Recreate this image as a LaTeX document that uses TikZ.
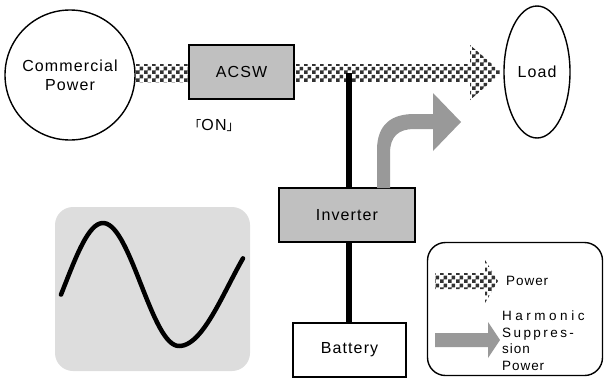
\documentclass[tikz,border=0pt]{standalone}
\usepackage{fontspec}
\usepackage{tikz}
\usetikzlibrary{patterns,shapes.geometric}
\setmainfont{Liberation Sans}
\newfontfamily\diagfont[LetterSpace=7]{Liberation Sans}
\newfontfamily\cjkfont{Noto Sans CJK JP}
\definecolor{boxgray}{RGB}{192,192,192}
\definecolor{arrowgray}{RGB}{153,153,153}
\definecolor{panelgray}{RGB}{221,221,221}
\definecolor{checkdark}{RGB}{50,50,50}

\pgfdeclarepatternformonly{checker}{\pgfpointorigin}{\pgfpoint{8pt}{8pt}}{\pgfpoint{8pt}{8pt}}{%
  \pgfpathrectangle{\pgfpointorigin}{\pgfpoint{4pt}{4pt}}%
  \pgfpathrectangle{\pgfpoint{4pt}{4pt}}{\pgfpoint{4pt}{4pt}}%
  \pgfusepath{fill}}

\tikzset{
  blockbox/.style={draw, line width=1.8pt, fill=boxgray, minimum width=105pt, minimum height=54pt},
  flowband/.style={fill=white, postaction={pattern=checker, pattern color=checkdark}},
  wire/.style={line width=6pt},
  txt/.style={font=\diagfont\fontsize{16}{19}\selectfont},
  smalltxt/.style={font=\diagfont\fontsize{13.5}{16.5}\selectfont}
}

\begin{document}
\begin{tikzpicture}[x=1pt, y=-1pt]
    \useasboundingbox (0,0) rectangle (605,378);

    % power flow band with arrow head
    \path[flowband] (70,64) rectangle (189,82);
    \path[flowband] (294,64) -- (470,64) -- (470,45) -- (502,72.5) -- (470,100) -- (470,82) -- (294,82) -- cycle;

    % blocks
    \node[draw, circle, line width=1.4pt, fill=white, minimum size=130pt, align=center, txt] (cp) at (70,75) {Commercial\\Power};
    \node[blockbox, txt, inner sep=0pt] (acsw) at (241.5,72) {ACSW};
    \node[txt, inner sep=0pt] (on) at (214,125) {{\cjkfont\fontsize{13}{13}\selectfont 「}ON{\cjkfont\fontsize{13}{13}\selectfont 」}};
    \node[draw, ellipse, line width=1.4pt, minimum width=66pt, minimum height=132pt, inner sep=0pt, txt] (load) at (537,72) {Load};
    \node[blockbox, txt, minimum width=136pt] (inv) at (347,215) {Inverter};
    \node[draw, line width=1.4pt, fill=white, minimum width=113pt, minimum height=54pt, txt] (batt) at (349.5,350) {Battery};

    % wiring
    \coordinate (tap) at (349,73);
    \draw[wire] (tap) -- (tap |- inv.north);
    \draw[wire] (batt.north -| tap) -- (tap |- inv.south);

    % harmonic suppression power arrow
    \fill[arrowgray] (377,188) -- (377,150) .. controls (377,124) and (392,114) .. (414,114)
        -- (433,114) -- (433,93) -- (461,122) -- (433,151) -- (433,129) -- (414,129)
        .. controls (399,129) and (390,136) .. (390,153) -- (390,188) -- cycle;

    % output waveform
    \fill[panelgray, rounded corners=18pt] (55,207) rectangle (250,371);
    \draw[line width=4.5pt, line cap=round, line join=round]
        plot[domain=61:179, samples=50] (\x, {284.5-61.5*cos((\x-103)/76*180)})
        -- plot[domain=179:243, samples=30] (\x, {284.5+61.5*cos((\x-179)/100*180)});

    % legend
    \node[draw, line width=1.4pt, rounded corners=18pt, minimum width=175pt, minimum height=133pt] (legend) at (515,309) {};
    \path[flowband] (435,273) -- (485,273) -- (485,260) -- (498,281) -- (485,303) -- (485,289) -- (435,289) -- cycle;
    \node[smalltxt, anchor=west, inner sep=0pt] (lgpower) at (506,281) {Power};
    \fill[arrowgray] (435,333) -- (488,333) -- (488,322) -- (500,340) -- (488,358) -- (488,347) -- (435,347) -- cycle;
    \node[smalltxt, anchor=north west, align=left, inner sep=0pt] (lgharm) at (502,311)
        {{\addfontfeatures{LetterSpace=26}Harmonic}\\{\addfontfeatures{LetterSpace=18}Suppres-}\\sion\\Power};
\end{tikzpicture}
\end{document}
